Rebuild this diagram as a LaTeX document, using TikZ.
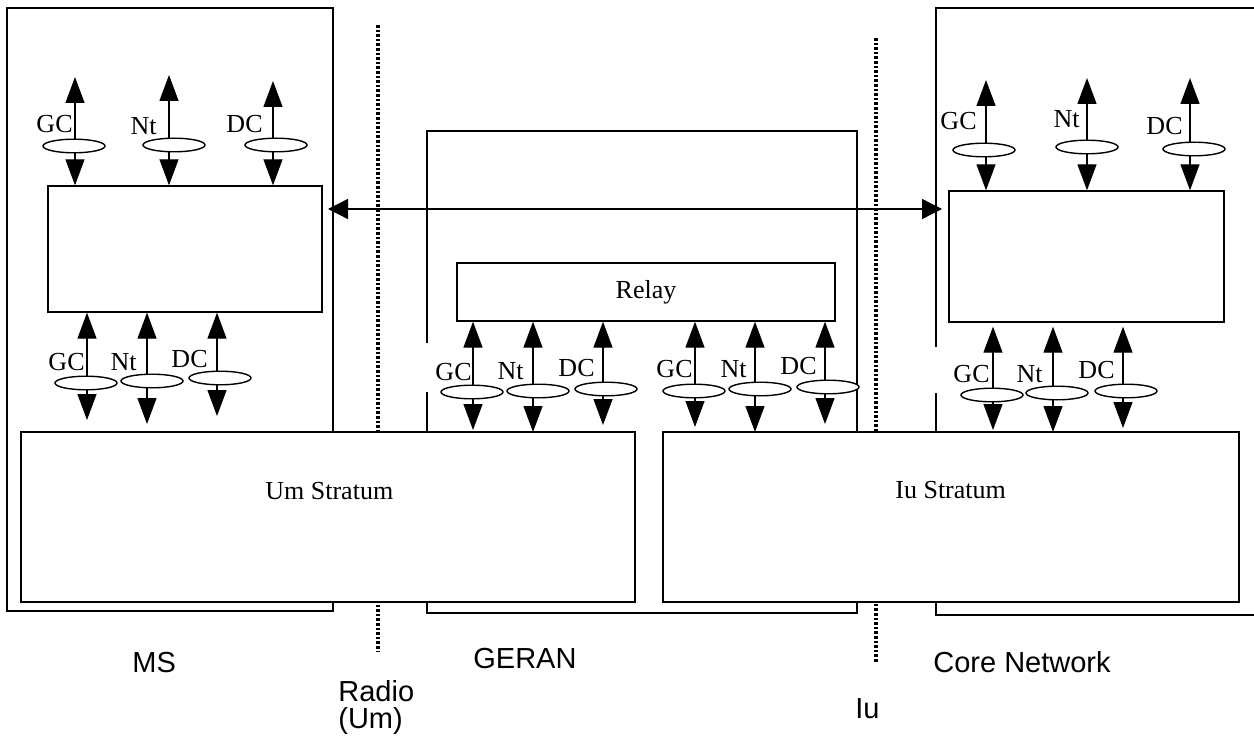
\documentclass[tikz,border=0pt]{standalone}
\usepackage{fontspec}
\setmainfont{Liberation Serif}
\setsansfont{Liberation Sans}
\usetikzlibrary{arrows.meta,shapes.geometric}

\tikzset{
  zone/.style={line width=0.6pt},
  iface/.style={line width=1.7pt, dash pattern=on 1.3pt off 1pt},
  block/.style={draw, fill=white, line width=0.7pt, inner sep=0pt},
  dbl/.style={line width=0.65pt, {Triangle[length=13pt,width=9.5pt]}-{Triangle[length=13pt,width=9.5pt]}},
  peer/.style={line width=0.65pt, {Triangle[length=10pt,width=10pt]}-{Triangle[length=10pt,width=10pt]}},
  chan/.style={draw, ellipse, fill=white, line width=0.7pt, minimum width=31pt, minimum height=6.8pt, inner sep=0pt},
  chlbl/.style={inner sep=0pt, anchor=base east, font=\fontsize{13}{15}\selectfont},
  strat/.style={inner sep=0pt, anchor=base west, font=\fontsize{13}{15}\selectfont},
  area/.style={inner sep=0pt, anchor=base west, font=\sffamily\fontsize{14.5}{13.5}\selectfont},
}

\begin{document}
\begin{tikzpicture}[x=0.5pt, y=-0.5pt]
  \useasboundingbox (0,0) rectangle (1254,738);
  % domain outlines
  \draw[zone] (7,8) rectangle (333,611);
  \draw[zone] (427,343) -- (427,131) -- (857,131) -- (857,613) -- (427,613) -- (427,392);
  \draw[zone] (936,347) -- (936,8) -- (1254,8);
  \draw[zone] (936,393) -- (936,615) -- (1254,615);
  % interfaces
  \coordinate (umtop) at (378,25);
  \coordinate (umbot) at (378,652);
  \coordinate (iutop) at (876,38);
  \coordinate (iubot) at (876,663);
  \draw[iface] (umtop) -- (umbot);
  \draw[iface] (iutop) -- (iubot);
  % protocol blocks
  \node[block, minimum width=137pt, minimum height=63pt] (msbox) at (185,249) {};
  \node[block, minimum width=137.5pt, minimum height=65.5pt] (corebox) at (1086.5,256.5) {};
  \node[block, minimum width=189pt, minimum height=29pt, font=\fontsize{13}{15}\selectfont] (relay) at (646,292) {Relay};
  \node[block, minimum width=307pt, minimum height=85pt] (umstratum) at (328,517) {};
  \node[block, minimum width=288pt, minimum height=85pt] (iustratum) at (951,517) {};
  \node[strat] (umtext) at (265,499) {Um Stratum};
  \node[strat] (iutext) at (895,498) {Iu Stratum};
  % peer to peer
  \coordinate (msright) at (328,209);
  \coordinate (cnleft) at (942,209);
  \draw[peer] (msright) -- (cnleft);
  % MS, upper channels
  \foreach \x/\tip/\ex/\ey/\chname/\lx/\ly [count=\i] in
    {75/77/74/146/GC/73/133, 169/75/174/145/Nt/157/134, 273/81/276/145/DC/263/133}
  {
    \coordinate (msup\i) at (\x,\tip);
    \draw[dbl] (msup\i) -- (msup\i |- msbox.north);
    \node[chan] (msupe\i) at (\ex,\ey) {};
    \node[chlbl] (msupl\i) at (\lx,\ly) {\chname};
  }
  % MS, lower channels
  \foreach \x/\tip/\ex/\ey/\chname/\lx/\ly [count=\i] in
    {87/420/86/383/GC/85/370, 147/424/152/381/Nt/137/370, 217/416/220/378/DC/208/367}
  {
    \coordinate (msdn\i) at (\x,\tip);
    \draw[dbl] (msdn\i |- msbox.south) -- (msdn\i);
    \node[chan] (msdne\i) at (\ex,\ey) {};
    \node[chlbl] (msdnl\i) at (\lx,\ly) {\chname};
  }
  % GERAN, relay channels
  \foreach \x/\tip/\ex/\ey/\chname/\lx/\ly [count=\i] in
    {473/430/472/392/GC/472/380, 533/432/538/391/Nt/524/379, 603/425/606/389/DC/595/376,
     695/427/694/391/GC/693/377, 755/432/760/389/Nt/747/377, 825/424/828/387/DC/817/374}
  {
    \coordinate (rl\i) at (\x,\tip);
    \draw[dbl] (rl\i |- relay.south) -- (rl\i);
    \node[chan] (rle\i) at (\ex,\ey) {};
    \node[chlbl] (rll\i) at (\lx,\ly) {\chname};
  }
  % core network, upper channels
  \foreach \x/\tip/\ex/\ey/\chname/\lx/\ly [count=\i] in
    {986/80/984/150/GC/977/130, 1087/78/1087/147/Nt/1080/128, 1190/78/1194/149/DC/1183/134}
  {
    \coordinate (cnup\i) at (\x,\tip);
    \draw[dbl] (cnup\i) -- (cnup\i |- corebox.north);
    \node[chan] (cnupe\i) at (\ex,\ey) {};
    \node[chlbl] (cnupl\i) at (\lx,\ly) {\chname};
  }
  % core network, lower channels
  \foreach \x/\tip/\ex/\ey/\chname/\lx/\ly [count=\i] in
    {993/430/992/395/GC/990/382, 1053/432/1057/393/Nt/1043/382, 1123/428/1126/391/DC/1115/378}
  {
    \coordinate (cndn\i) at (\x,\tip);
    \draw[dbl, shorten <=2pt] (cndn\i |- corebox.south) -- (cndn\i);
    \node[chan] (cndne\i) at (\ex,\ey) {};
    \node[chlbl] (cndnl\i) at (\lx,\ly) {\chname};
  }
  % domains and interfaces
  \node[area] (mslbl) at (132,672) {MS};
  \node[area, align=left] (umlbl) at (338,728) {Radio\\(Um)};
  \node[area] (geranlbl) at (473,668) {GERAN};
  \node[area] (iulbl) at (855,718) {Iu};
  \node[area] (cnlbl) at (933,672) {Core Network};
\end{tikzpicture}
\end{document}
